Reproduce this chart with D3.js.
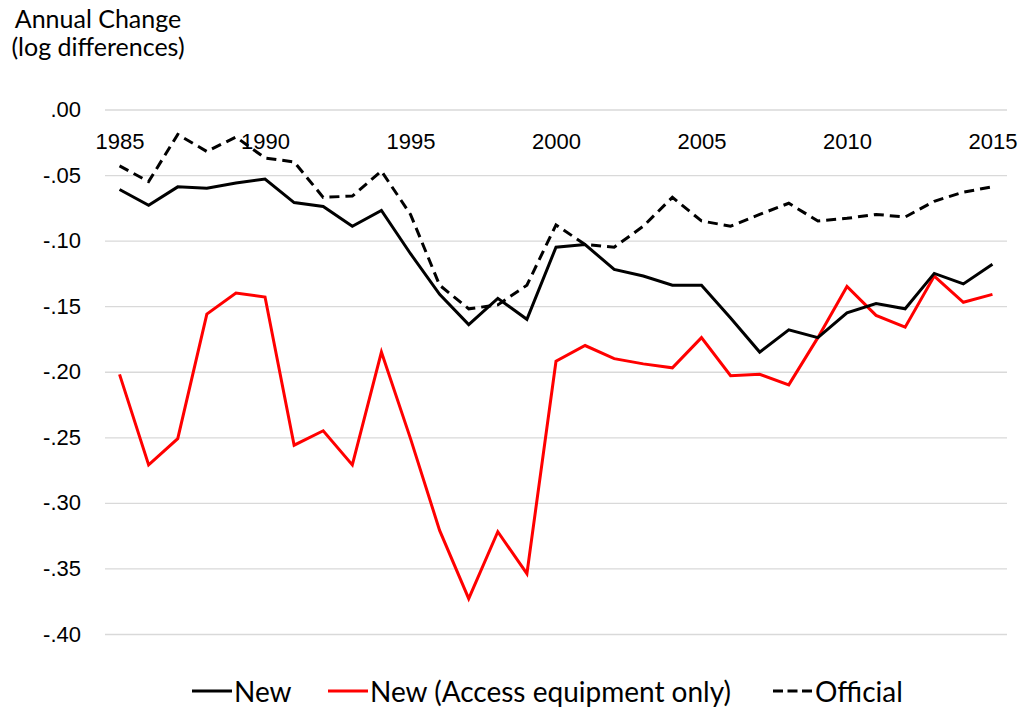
<!DOCTYPE html>
<html>
<head>
<meta charset="utf-8">
<script src="https://cdn.jsdelivr.net/npm/d3@7"></script>
<style>
  body { margin: 0; background: #fff; }
  svg { display: block; font-family: Lato, "Open Sans", "DejaVu Sans", sans-serif; }
  .grid line { stroke: #d9d9d9; stroke-width: 1.3px; }
  .grid .domain { display: none; }
  .ylab text, .xlab text { fill: #000; font-size: 22px; }
  .ylab .domain, .ylab line, .xlab .domain, .xlab line { display: none; }
  .series { fill: none; stroke-width: 3px; stroke-linejoin: miter; }
  .legend text { font-size: 28px; fill: #000; }
</style>
</head>
<body>
<svg id="chart" width="1020" height="711"></svg>
<script>
// years on the category axis
let years = d3.range(1985, 2016);

// annual change, log differences
let newSeries = [-0.061, -0.073, -0.059, -0.060, -0.056, -0.053, -0.071, -0.074, -0.089, -0.077,
    -0.110, -0.141, -0.164, -0.144, -0.160, -0.105, -0.103, -0.122, -0.127, -0.134,
    -0.134, -0.159, -0.185, -0.168, -0.174, -0.155, -0.148, -0.152, -0.125, -0.133, -0.118];

let accessSeries = [-0.202, -0.271, -0.251, -0.156, -0.140, -0.143, -0.256, -0.245, -0.271, -0.185,
    -0.251, -0.321, -0.373, -0.322, -0.354, -0.192, -0.180, -0.190, -0.194, -0.197,
    -0.174, -0.203, -0.202, -0.210, -0.174, -0.135, -0.157, -0.166, -0.127, -0.147, -0.141];

let officialSeries = [-0.043, -0.055, -0.019, -0.032, -0.021, -0.037, -0.040, -0.067, -0.066, -0.047,
    -0.080, -0.134, -0.152, -0.149, -0.134, -0.088, -0.103, -0.105, -0.089, -0.067,
    -0.085, -0.089, -0.080, -0.0715, -0.085, -0.083, -0.080, -0.082, -0.070, -0.063, -0.059];

let yTicks = [0, -0.05, -0.10, -0.15, -0.20, -0.25, -0.30, -0.35, -0.40];
let yTickLabels = [".00", "-.05", "-.10", "-.15", "-.20", "-.25", "-.30", "-.35", "-.40"];
let xTickLabels = [1985, 1990, 1995, 2000, 2005, 2010, 2015];

let seriesNames = ["New", "New (Access equipment only)", "Official"];

let svg = d3.select("#chart");

let plot_left = 105,
    plot_right = 1007,
    plot_top = 109.5,
    plot_bottom = 634;

let xScale = d3.scaleBand()
    .domain(years)
    .range([plot_left, plot_right]);

let yScale = d3.scaleLinear()
    .domain([-0.40, 0])
    .range([plot_bottom, plot_top]);

let xPos = d => xScale(d) + xScale.bandwidth() / 2;

// gridlines
svg.append("g")
    .attr("class", "grid")
    .attr("transform", "translate(" + plot_left + ",0)")
    .call(d3.axisLeft(yScale)
        .tickValues(yTicks)
        .tickSize(-(plot_right - plot_left))
        .tickFormat(""));

// y tick labels
svg.append("g")
    .attr("class", "ylab")
    .attr("transform", "translate(" + plot_left + ",0)")
    .call(d3.axisLeft(yScale)
        .tickValues(yTicks)
        .tickSize(0)
        .tickPadding(24)
        .tickFormat((d, i) => yTickLabels[i]));

// x labels sit just below the zero line
let xAxis = d3.axisBottom(d3.scalePoint().domain(years).range([xPos(1985), xPos(2015)]))
    .tickValues(xTickLabels)
    .tickSize(0)
    .tickPadding(0);

svg.append("g")
    .attr("class", "xlab")
    .attr("transform", "translate(0," + (yScale(0) + 24) + ")")
    .call(xAxis);

// axis title
let title = svg.append("text")
    .attr("x", 98)
    .attr("y", 28)
    .attr("text-anchor", "middle")
    .style("font-size", "25px");
title.append("tspan").attr("x", 98).text("Annual Change");
title.append("tspan").attr("x", 98).attr("dy", 28).text("(log differences)");

let line = d3.line()
    .x((d, i) => xPos(years[i]))
    .y(d => yScale(d));

let series = [
    {name: seriesNames[1], values: accessSeries, color: "#ff0000", dash: null},
    {name: seriesNames[2], values: officialSeries, color: "#000000", dash: "10,6"},
    {name: seriesNames[0], values: newSeries, color: "#000000", dash: null}
];

for(let s of series) {
    svg.append("path")
        .attr("class", "series")
        .attr("d", line(s.values))
        .attr("stroke", s.color)
        .attr("stroke-dasharray", s.dash);
}

// legend
let legendItems = [
    {name: seriesNames[0], color: "#000000", dash: null, x: 192},
    {name: seriesNames[1], color: "#ff0000", dash: null, x: 328},
    {name: seriesNames[2], color: "#000000", dash: "10,4.5", x: 773}
];

let legend = svg.append("g").attr("class", "legend");
for(let item of legendItems) {
    legend.append("line")
        .attr("x1", item.x)
        .attr("x2", item.x + 40)
        .attr("y1", 691)
        .attr("y2", 691)
        .attr("stroke", item.color)
        .attr("stroke-width", 3)
        .attr("stroke-dasharray", item.dash);
    legend.append("text")
        .attr("x", item.x + 42)
        .attr("y", 702)
        .text(item.name);
}
</script>
</body>
</html>
